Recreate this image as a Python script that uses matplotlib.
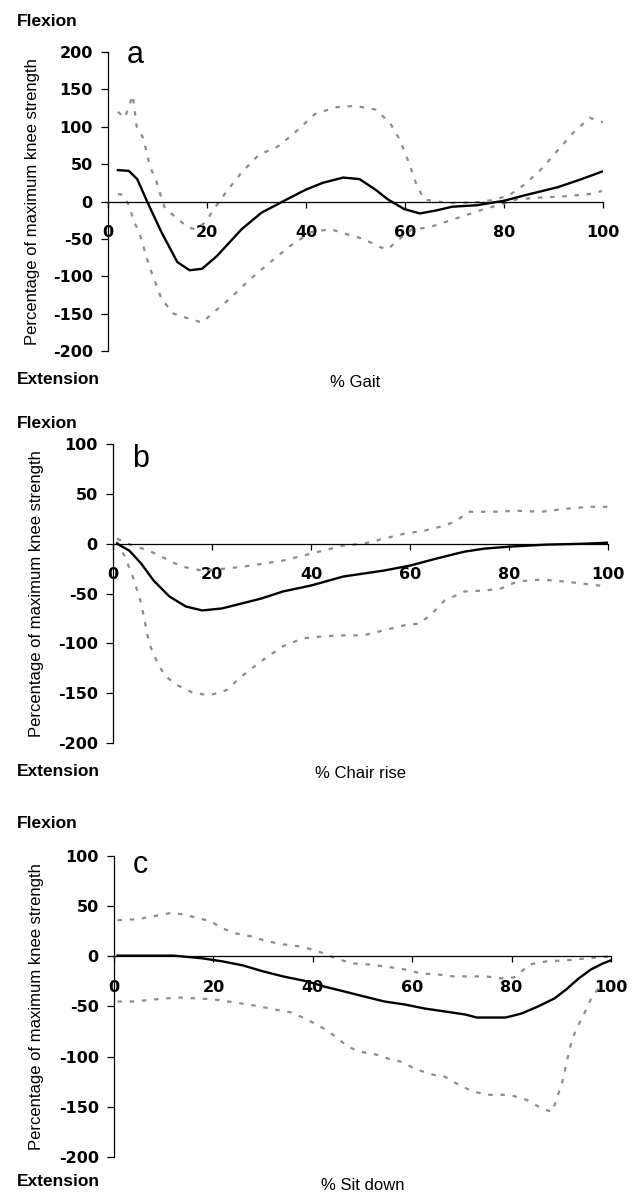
"""Knee moment as percentage of maximum knee strength: gait, chair rise, sit down."""

from matplotlib import pyplot

# panel a: % gait
gait_mean_x = [2, 4.2, 5.9, 7.9, 10.8, 14, 16.5, 19, 22, 27, 31, 35.3, 40, 43.4,
               47.5, 50.8, 54, 56.5, 59.8, 63, 66.3, 69.5, 74.5, 80, 84, 90.8,
               95.7, 99.8]
gait_mean_y = [42, 41, 30, 0, -41, -81, -92, -90, -73, -37, -15, 0, 16, 25,
               32, 30, 16, 3, -10, -16, -12, -7, -5, 1, 8, 19, 30, 40]
gait_upper_x = [2, 3.4, 4.3, 5, 5.8, 7.1, 7.8, 8.5, 9.7, 10.5, 11.5, 13.7, 16,
                17.5, 19.7, 21.4, 23.8, 27, 30.4, 34.4, 37.7, 41.8, 45.9, 49.9,
                54, 56.9, 58.9, 60.5, 62.2, 63.8, 66.3, 69.5, 74.5, 77.7, 81,
                84.2, 87.5, 90.8, 94, 97.3, 100]
gait_upper_y = [120, 112, 129, 142, 100, 85, 66, 46, 29, 11, -9, -21, -34,
                -37, -28, -10, 12, 39, 62, 74, 92, 117, 126, 128, 123, 106, 83,
                57, 25, 3, 0, -2, -1, 2, 8, 23, 43, 68, 92, 112, 106]
gait_lower_x = [2, 3, 4.4, 5.1, 6.3, 8.3, 10.8, 13.2, 16.5, 19, 21.4, 24.6,
                28.7, 32.8, 36.9, 41, 45, 48.3, 51.6, 54.9, 56.5, 58.9, 61.4,
                64.7, 67.9, 72, 76, 79.4, 82.6, 86.7, 92.4, 97.3, 99.8]
gait_lower_y = [10, 9, -7, -25, -41, -86, -130, -150, -157, -162, -148, -130,
                -104, -81, -59, -41, -37, -44, -50, -61, -64, -50, -37, -35,
                -28, -19, -10, -4, 3, 5, 7, 10, 14]

# panel b: % chair rise
rise_mean_x = [0.8, 3.3, 5.7, 8.2, 11.4, 14.7, 18, 22, 26, 30, 34.3, 40, 46.5,
               54.7, 60, 65.3, 71, 75, 80, 87.3, 95.5, 100]
rise_mean_y = [0, -7, -20, -37, -53, -63, -67, -65, -60, -55, -48, -42, -33,
               -27, -22, -15, -8, -5, -3, -1, 0, 1]
rise_upper_x = [0.8, 4, 7.3, 10.6, 13.9, 18, 22.9, 27.8, 34.3, 40.8, 46.5,
                50.6, 54.7, 58.8, 62.9, 67, 69.4, 71.8, 76.7, 81.6, 86.5, 91.4,
                96.3, 100]
rise_upper_y = [5, -2, -7, -15, -23, -27, -25, -22, -17, -9, -2, 0, 5, 10, 13,
                18, 23, 32, 32, 33, 32, 35, 37, 37]
rise_lower_x = [0.8, 2.4, 4, 5.7, 7.3, 9, 10.6, 13, 16.3, 19.6, 22.9, 26,
                30.2, 34.3, 38.4, 42.4, 46.5, 50.6, 54.7, 58.8, 62, 64.5, 67,
                71, 75, 78.4, 81.6, 86.5, 91.4, 94.7, 100]
rise_lower_y = [2, -13, -33, -60, -100, -120, -133, -142, -150, -152, -147,
                -133, -117, -103, -95, -93, -92, -92, -87, -82, -80, -70, -57,
                -48, -47, -45, -38, -36, -38, -40, -43]

# panel c: % sit down
sit_mean_x = [0.7, 12, 17.8, 21.8, 25.9, 30, 34, 38.9, 42.2, 46.3, 50.3, 54.4,
              58.5, 62.5, 66.6, 70.7, 73, 78.8, 82, 85.3, 88.6, 91, 93.5, 96,
              98.4, 100]
sit_mean_y = [0.7, 0.7, -2, -5, -9, -15, -20, -25, -30, -35, -40, -45, -48,
              -52, -55, -58, -61, -61, -57, -50, -42, -33, -22, -13, -7, -4]
sit_upper_x = [0.7, 4.7, 8, 11.2, 13.7, 17, 19.4, 21.8, 24.3, 27.5, 30.8, 34,
               37.3, 39.7, 42.2, 44.6, 47.9, 51.1, 54.4, 58.5, 61.7, 65, 68.2,
               71.5, 74.8, 78, 80.5, 82, 83.7, 87, 91, 95.1, 100]
sit_upper_y = [36, 37, 40, 43, 42, 38, 35, 28, 23, 20, 15, 12, 10, 7, 3, -2,
               -7, -8, -10, -13, -17, -18, -20, -20, -20, -22, -21, -15, -8,
               -5, -4, -2, 0]
sit_lower_x = [0.7, 3.9, 8, 12.9, 17, 20.2, 24.3, 28.3, 32.4, 35.7, 38.9, 42.2,
               44.6, 47, 49.5, 52.8, 55.2, 57.7, 61, 64.2, 66.6, 69, 72.3, 75.6,
               79.6, 83, 86.2, 88.2, 89.2, 90.2, 91.1, 92.2, 93.4, 94.8, 96.2,
               97.5]
sit_lower_y = [-45, -45, -43, -41, -42, -43, -46, -49, -53, -56, -63, -72, -80,
               -90, -95, -98, -102, -105, -113, -118, -120, -127, -135, -138,
               -138, -143, -152, -155, -140, -125, -105, -82, -69, -55, -40,
               -32]

panels = [
    ('a', '% Gait', (-200, 200), (108, 52, 603, 351), 33,
     (gait_mean_x, gait_mean_y), (gait_upper_x, gait_upper_y),
     (gait_lower_x, gait_lower_y), (21, 380, 63)),
    ('b', '% Chair rise', (-200, 100), (113, 444, 608, 743), 37,
     (rise_mean_x, rise_mean_y), (rise_upper_x, rise_upper_y),
     (rise_lower_x, rise_lower_y), (424, 771, 467)),
    ('c', '% Sit down', (-200, 100), (114, 856, 611, 1157), 37,
     (sit_mean_x, sit_mean_y), (sit_upper_x, sit_upper_y),
     (sit_lower_x, sit_lower_y), (824, 1182, 873)),
]

W, H = 633, 1197
pyplot.rcParams['axes.unicode_minus'] = False
lab_font = ['Liberation Sans', 'DejaVu Sans']

fig = pyplot.figure(figsize=(W / 100, H / 100), dpi=100)

for (letter, xlab, ylim, box, ylab_x, mean, upper, lower, ys) in panels:
    x0, y0, x1, y1 = box
    ax = fig.add_axes([x0 / W, 1 - y1 / H, (x1 - x0) / W, (y1 - y0) / H])
    ax.plot(*upper, color='#8c8c8c', lw=1.6, dashes=(2, 3.5))
    ax.plot(*lower, color='#8c8c8c', lw=1.6, dashes=(2, 3.5))
    ax.plot(*mean, color='black', lw=1.7)
    ax.set_xlim(0, 100)
    ax.set_ylim(*ylim)
    ax.set_xticks(range(0, 101, 20))
    ax.set_yticks(range(ylim[0], ylim[1] + 1, 50))
    ax.spines['top'].set_visible(False)
    ax.spines['right'].set_visible(False)
    ax.spines['bottom'].set_position(('data', 0))
    ax.spines['bottom'].set_linewidth(0.9)
    ax.spines['left'].set_linewidth(0.9)
    ax.tick_params(axis='y', length=5, width=0.9, pad=6)
    ax.tick_params(axis='x', length=4, width=0.9, pad=13)
    for lbl in ax.get_xticklabels() + ax.get_yticklabels():
        lbl.set_fontsize(11.5)
        lbl.set_fontweight('bold')

    flex_y, ext_y, letter_y = ys
    fig.text(x0 / W + 0.03, 1 - letter_y / H, letter, fontsize=22,
             family=lab_font, va='baseline', ha='left')
    fig.text(17 / W, 1 - flex_y / H, 'Flexion', fontsize=12.5,
             fontweight='bold', family=lab_font, va='center', ha='left')
    fig.text(17 / W, 1 - ext_y / H, 'Extension', fontsize=12.5,
             fontweight='bold', family=lab_font, va='center', ha='left')
    fig.text((x0 + x1) / 2 / W, 1 - (ext_y + 3) / H, xlab, fontsize=12,
             family=lab_font, va='center', ha='center')
    fig.text(ylab_x / W, 1 - (y0 + y1) / 2 / H,
             'Percentage of maximum knee strength', fontsize=12,
             family=lab_font, rotation=90, va='center', ha='center')

fig.savefig('out.png', dpi=100)
